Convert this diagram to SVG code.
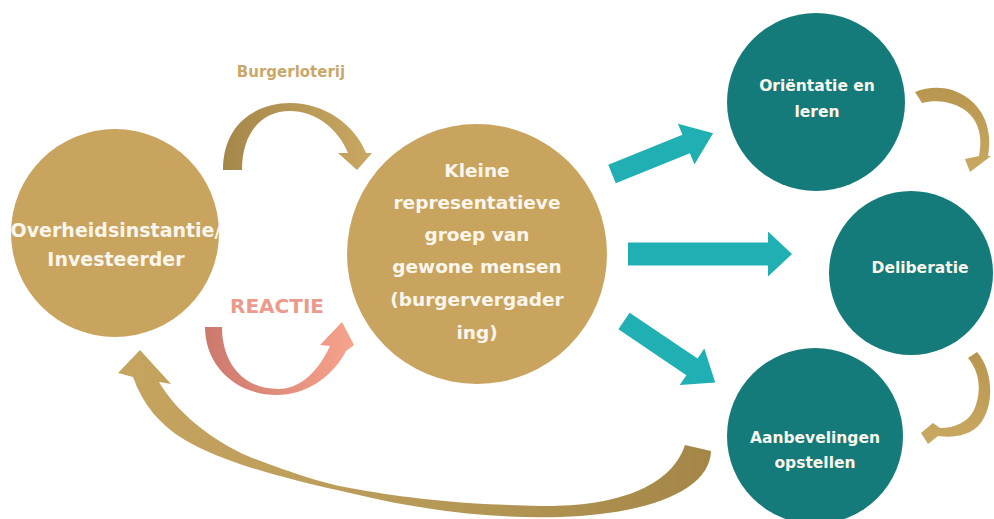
<svg xmlns="http://www.w3.org/2000/svg" width="994" height="519" viewBox="0 0 994 519">
<defs>
<style>
.tan{fill:#c8a45f}
.teal{fill:#147b7a}
.ta{fill:#20b0b3}
.t{font-family:"DejaVu Sans","Liberation Sans",sans-serif;font-weight:bold;fill:#fbf6ec;text-anchor:middle}
.big{font-size:18.5px}
.left{font-size:19px}
.sm{font-size:15.5px}
</style>
<linearGradient id="gold" x1="0" y1="0" x2="1" y2="0">
<stop offset="0" stop-color="#a5874a"/><stop offset="1" stop-color="#c9a862"/>
</linearGradient>
<linearGradient id="goldR" x1="0" y1="0" x2="1" y2="0">
<stop offset="0" stop-color="#c5a45f"/><stop offset="0.5" stop-color="#b89a58"/><stop offset="1" stop-color="#a48748"/>
</linearGradient>
<linearGradient id="salmon" x1="0" y1="0" x2="1" y2="0">
<stop offset="0" stop-color="#cc786c"/><stop offset="1" stop-color="#f7a38c"/>
</linearGradient>
<linearGradient id="goldS" x1="0" y1="0" x2="0" y2="1">
<stop offset="0" stop-color="#b8964f"/><stop offset="1" stop-color="#c9a862"/>
</linearGradient>
</defs>

<g id="connectors">
<path fill="url(#gold)" d="M 223,170 C 223,122 258,103 290,103 C 325,103 355,125 366,153 L 372,153 L 357,170 L 338,153 L 348,153 C 338,128 315,111 290,111 C 262,111 242,132 242,170 Z"/>
<path fill="url(#salmon)" d="M 205,327 C 205,365 235,395 277,395 C 305,395 332,378 346,351 L 354,345 L 342,322 L 320,345 L 330,346 C 318,372 300,389 278,389 C 245,389 222,365 222,327 Z"/>
<path fill="url(#goldR)" d="M 685,445 L 711,451 C 710,490 650,514 560,517 C 490,519 420,510 350,493 C 282,478 222,462 185,440 C 160,425 143,405 133,377 L 118,373 L 140,350 L 171,384 L 159,382 C 175,410 210,440 250,457 C 290,472 320,483 350,488 C 400,497 450,504 540,506 C 610,507 670,490 685,445 Z"/>
<path fill="url(#goldS)" d="M 915,92 C 945,80 975,95 985,120 C 990,133 990,145 988,156 L 991,156 L 970,172 L 965,159 L 979,156 C 982,140 980,128 973,118 C 963,104 940,98 922,103 Z"/>
<path fill="url(#goldS)" d="M 968,358 L 977,352 C 993,370 995,405 980,424 C 970,436 952,438 938,436 L 928,444 L 921,433 L 933,423 L 940,428 C 955,428 968,422 974,410 C 982,392 980,372 968,358 Z"/>
<g class="ta">
<path transform="translate(612,174) rotate(-22)" d="M 0,-10 L 80,-10 L 80,-22 L 109,0 L 80,22 L 80,10 L 0,10 Z"/>
<path transform="translate(628,254)" d="M 0,-11.5 L 140,-11.5 L 140,-22.5 L 164,0 L 140,22.5 L 140,11.5 L 0,11.5 Z"/>
<path transform="translate(624,321) rotate(34)" d="M 0,-10 L 82,-10 L 82,-22 L 110,0 L 82,22 L 82,10 L 0,10 Z"/>
</g>
</g>

<g id="label-burgerloterij"><text x="291" y="77" style="font-family:'DejaVu Sans','Liberation Sans',sans-serif;font-weight:bold;font-size:15px;fill:#c9a86a;text-anchor:middle">Burgerloterij</text></g>
<g id="label-reactie"><text x="277" y="313" style="font-family:'DejaVu Sans','Liberation Sans',sans-serif;font-weight:bold;font-size:20px;fill:#eb9b8b;text-anchor:middle">REACTIE</text></g>

<g id="overheid">
<circle class="tan" cx="115" cy="233" r="104"/>
<text class="t left" x="116" y="237">Overheidsinstantie/</text>
<text class="t left" x="116" y="266">Investeerder</text>
</g>

<g id="burgervergadering">
<circle class="tan" cx="477" cy="254" r="130"/>
<text class="t big" x="477" y="177">Kleine</text>
<text class="t big" x="477" y="209">representatieve</text>
<text class="t big" x="477" y="241">groep van</text>
<text class="t big" x="477" y="273">gewone mensen</text>
<text class="t big" x="477" y="306">(burgervergader</text>
<text class="t big" x="477" y="339">ing)</text>
</g>

<g id="orientatie">
<circle class="teal" cx="816" cy="102" r="89"/>
<text class="t sm" x="817" y="91">Oriëntatie en</text>
<text class="t sm" x="817" y="117">leren</text>
</g>

<g id="deliberatie">
<circle class="teal" cx="911" cy="273" r="82"/>
<text class="t sm" x="920" y="273">Deliberatie</text>
</g>

<g id="aanbevelingen">
<circle class="teal" cx="815" cy="436" r="88"/>
<text class="t sm" x="815" y="443">Aanbevelingen</text>
<text class="t sm" x="815" y="468">opstellen</text>
</g>
</svg>
